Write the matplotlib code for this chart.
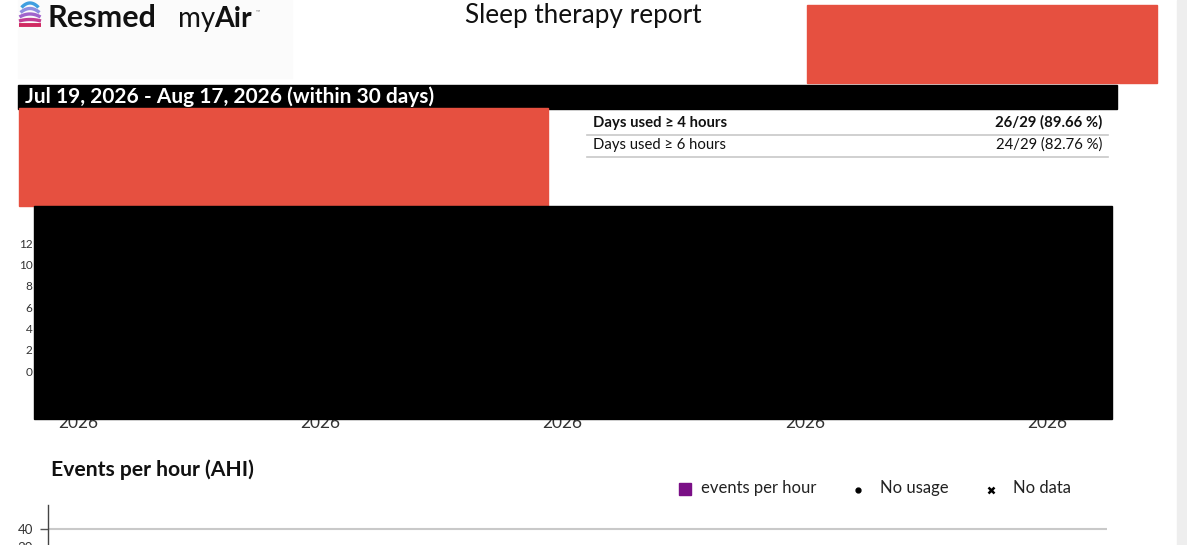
from __future__ import annotations

import matplotlib

matplotlib.use("Agg")
import matplotlib.dates as mdates
import matplotlib.pyplot as plt
import numpy as np
from matplotlib.patches import Rectangle

plt.rcParams["font.family"] = ["Lato", "DejaVu Sans"]

# --- data -----------------------------------------------------------------
report_title = "Sleep therapy report"
date_range = "Jul 19, 2026 - Aug 17, 2026 (within 30 days)"

table_labels = ["Days used \u2265 4 hours", "Days used \u2265 6 hours"]
table_values = ["26/29 (89.66 %)", "24/29 (82.76 %)"]
table_bold = [True, False]

usage_yticks = [0, 2, 4, 6, 8, 10, 12]
usage_xticks = ["2026-07-20", "2026-07-27", "2026-08-03", "2026-08-10", "2026-08-17"]
usage_xlim = ["2026-07-18 17:30", "2026-08-18 21:00"]

ahi_title = "Events per hour (AHI)"
ahi_yticks = [30, 40]
legend_labels = ["events per hour", "No usage", "No data"]

W, H = 1187, 545
RED = "#e65040"
PURPLE = "#7a0f86"


def box(x0, y0, x1, y1):
    # pixel box (top-left origin) -> figure fraction rect
    return [x0 / W, 1 - y1 / H, (x1 - x0) / W, (y1 - y0) / H]


fig = plt.figure(figsize=(W / 100, H / 100), dpi=100)

# --- usage chart (hidden under the black redaction) -----------------------
ax = fig.add_axes(box(34, 206, 1112, 419))
ax.set_ylim(-4.5, 15.5)
ax.set_yticks(usage_yticks)
ax.set_xlim(mdates.datestr2num(usage_xlim))
ax.set_xticks(mdates.datestr2num(usage_xticks))
ax.xaxis.set_major_formatter(mdates.DateFormatter("%Y"))
ax.tick_params(axis="y", length=0, pad=1, labelsize=8.5, labelcolor="#333333")
ax.tick_params(axis="x", length=0, pad=-3, labelsize=12.5, labelcolor="#333333")
for s in ax.spines.values():
    s.set_visible(False)

# --- AHI chart (cut off at the bottom of the screenshot) ------------------
ax2 = fig.add_axes(box(48, 505, 1107, 601))
ax2.set_ylim(0, 53.3)
ax2.set_xlim(0, 1)
ax2.set_yticks(ahi_yticks)
ax2.set_xticks([])
ax2.grid(axis="y", color="#c9c9c9", linewidth=1.5)
ax2.tick_params(axis="y", length=6, width=1, color="#555555", pad=5,
                labelsize=9.5, labelcolor="#333333")
for side in ["top", "right", "bottom"]:
    ax2.spines[side].set_visible(False)
ax2.spines["left"].set_color("#444444")
ax2.spines["left"].set_linewidth(1)

# --- page decorations, in pixel coordinates -------------------------------
ov = fig.add_axes([0, 0, 1, 1], zorder=10)
ov.set_xlim(0, W)
ov.set_ylim(H, 0)
ov.axis("off")
ov.patch.set_alpha(0)

ov.add_patch(Rectangle((18, 0), 274, 78, color="#fbfbfb", zorder=0))
ov.add_patch(Rectangle((1177, 0), 10, H, color="#eeeeee", zorder=0))

# logo: stacked arcs, flatter towards the bottom
arc_colors = ["#3f9fe0", "#8d8ee0", "#a064cc", "#c23c92", "#d02a62"]
arc_half = [8.5, 9.5, 10.5, 11, 11]
arc_bend = [4.5, 4.0, 3.0, 1.5, 0.0]
xs = np.linspace(-1, 1, 40)
for i, c in enumerate(arc_colors):
    ov.plot(30 + arc_half[i] * xs, 3 + 5.5 * i + arc_bend[i] * xs ** 2,
            color=c, lw=2.8 if i == 4 else 2.4, solid_capstyle="butt")

ov.text(48, 18, "Resmed", fontsize=22, fontweight="bold", va="center",
        color="#111111")
ov.text(178, 19, "my", fontsize=20, va="center", color="#111111")
ov.text(214, 19, "Air", fontsize=20.5, fontweight="bold", va="center",
        color="#111111")
ov.text(256, 12, "\u2122", fontsize=4, va="center", color="#777777")
ov.text(583, 15, report_title, fontsize=18.8, ha="center", va="center",
        color="#111111")

# redactions
ov.add_patch(Rectangle((807, 5), 350, 78, color=RED))
ov.add_patch(Rectangle((18, 85), 1099, 24, color="black"))
ov.text(25, 97, date_range, fontsize=15, fontweight="bold", color="white",
        va="center")
ov.add_patch(Rectangle((19, 108), 529, 98, color=RED))
ov.add_patch(Rectangle((34, 206), 1078, 213, color="black"))

# compliance table
for i, (lab, val, bold) in enumerate(zip(table_labels, table_values, table_bold)):
    y = 122.5 + 22 * i
    w = "bold" if bold else "normal"
    ov.text(593, y, lab, fontsize=10.7, fontweight=w, va="center", color="#111111")
    ov.text(1102, y, val, fontsize=10.7, fontweight=w, va="center", ha="right",
            color="#111111")
    ov.plot([587, 1108], [y + 12, y + 12], color="#c8c8c8", lw=1.2)

# AHI heading and legend
ov.text(51, 470, ahi_title, fontsize=15.2, fontweight="bold", va="center",
        color="#111111")
ov.plot(685, 489, marker="s", ms=9, color=PURPLE, ls="none")
ov.text(701, 488, legend_labels[0], fontsize=12, va="center", color="#222222")
ov.plot(858, 490, marker="o", ms=3.5, color="black", ls="none")
ov.text(880, 488, legend_labels[1], fontsize=12, va="center", color="#222222")
ov.plot(991, 490, marker="x", ms=5, mew=1.8, color="black", ls="none")
ov.text(1013, 488, legend_labels[2], fontsize=12, va="center", color="#222222")

fig.savefig("out.png", dpi=100, facecolor="white")
